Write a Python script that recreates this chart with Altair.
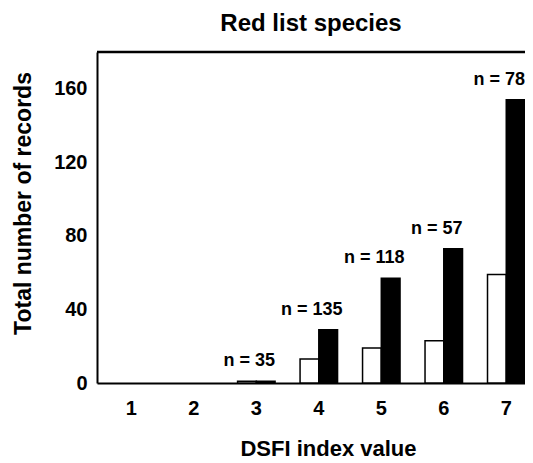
import altair as alt
import pandas as pd

categories = ["1", "2", "3", "4", "5", "6", "7"]
white_values = [0, 0, 1, 13, 19, 23, 59]
black_values = [0, 0, 1, 29, 57, 73, 154]
n_labels = ["", "", "n = 35", "n = 135", "n = 118", "n = 57", "n = 78"]

rows = []
for c, w, b in zip(categories, white_values, black_values):
    rows.append({"cat": c, "series": "a", "value": w})
    rows.append({"cat": c, "series": "b", "value": b})
bars_df = pd.DataFrame(rows)
labels_df = pd.DataFrame({"cat": categories, "value": black_values, "label": n_labels})
labels_df = labels_df[labels_df["label"] != ""]

FONT = "Liberation Sans"

xscale = alt.Scale(domain=categories, paddingInner=0.4, paddingOuter=0.125, align=1)
yscale = alt.Scale(domain=[0, 180])

bars = alt.Chart(bars_df).mark_bar(stroke="black", strokeWidth=1.5).encode(
    x=alt.X("cat:N", scale=xscale, sort=categories,
            axis=alt.Axis(title="DSFI index value", labelAngle=0, ticks=False,
                          labelPadding=15, titlePadding=20, titleX=231)),
    xOffset=alt.XOffset("series:N", scale=alt.Scale(paddingInner=0, paddingOuter=0)),
    y=alt.Y("value:Q", scale=yscale,
            axis=alt.Axis(title="Total number of records", values=[0, 40, 80, 120, 160],
                          ticks=False, grid=False, labelPadding=10, titleY=151,
                          titleX=-62, titleFontSize=23)),
    fill=alt.Fill("series:N", scale=alt.Scale(domain=["a", "b"], range=["white", "black"]),
                  legend=None),
    strokeOpacity=alt.condition("datum.value > 0", alt.value(1), alt.value(0)),
)

texts = alt.Chart(labels_df).mark_text(font=FONT, fontWeight="bold", fontSize=18,
                                       dy=-20, dx=-7, baseline="middle", color="black").encode(
    x=alt.X("cat:N", scale=xscale, sort=categories),
    y=alt.Y("value:Q", scale=yscale),
    text="label:N",
)

top_rule = alt.Chart(pd.DataFrame({"v": [0]})).mark_rule(color="black", strokeWidth=2.5).encode(
    x=alt.value(0), x2=alt.value(428), y=alt.value(0)
)

chart = alt.layer(bars, texts, top_rule).properties(
    width=428, height=331,
    title=alt.TitleParams("Red list species", font=FONT, fontSize=24, fontWeight="bold",
                          anchor="middle", offset=15, color="black"),
    autosize=alt.AutoSizeParams(type="none"),
    padding={"left": 89, "top": 44, "right": 0, "bottom": 80},
).configure_view(strokeWidth=0).configure_axis(
    labelFont=FONT, labelFontSize=20, labelFontWeight="bold", labelColor="black",
    titleFont=FONT, titleFontSize=22, titleFontWeight="bold", titleColor="black",
    domainColor="black", domainWidth=2,
)

chart.save("out.html", embed_options={"renderer": "svg", "actions": False})
